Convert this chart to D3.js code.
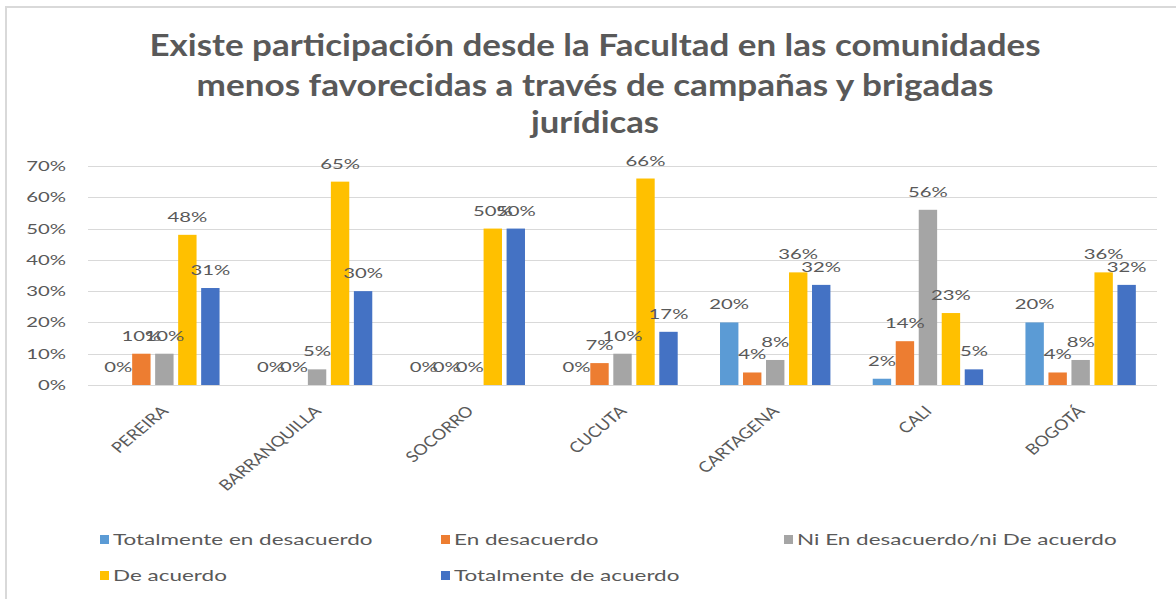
<!DOCTYPE html>
<html>
<head>
<meta charset="utf-8">
<script src="https://cdn.jsdelivr.net/npm/d3@7"></script>
<style>
  html, body { margin: 0; padding: 0; background: #fff; }
  svg { display: block; font-family: Lato, 'Open Sans', sans-serif; }
</style>
</head>
<body>
<svg id="chart" width="1176" height="599"></svg>
<script>
const titleLines = [
  'Existe participación desde la Facultad en las comunidades',
  'menos favorecidas a través de campañas y brigadas',
  'jurídicas'
];
const cities = ['PEREIRA', 'BARRANQUILLA', 'SOCORRO', 'CUCUTA', 'CARTAGENA', 'CALI', 'BOGOTÁ'];
const seriesNames = [
  'Totalmente en desacuerdo',
  'En desacuerdo',
  'Ni En desacuerdo/ni De acuerdo',
  'De acuerdo',
  'Totalmente de acuerdo'
];
const seriesColors = ['#5b9bd5', '#ed7d31', '#a5a5a5', '#ffc000', '#4472c4'];
// values per series, in city order (percent)
const totalDesacuerdo = [0, 0, 0, 0, 20, 2, 20];
const enDesacuerdo = [10, 0, 0, 7, 4, 14, 4];
const niNi = [10, 5, 0, 10, 8, 56, 8];
const deAcuerdo = [48, 65, 50, 66, 36, 23, 36];
const totalAcuerdo = [31, 30, 50, 17, 32, 5, 32];
const yTicks = [0, 10, 20, 30, 40, 50, 60, 70];

const seriesValues = [totalDesacuerdo, enDesacuerdo, niNi, deAcuerdo, totalAcuerdo];

const width = 1176;
const height = 599;
const SX = 1.45; // the source picture is stretched horizontally
const textColor = '#595959';

const svg = d3.select('#chart');
svg.append('rect').attr('width', width).attr('height', height).attr('fill', '#fff');

// frame
svg.append('rect')
  .attr('x', 6).attr('y', 7)
  .attr('width', width).attr('height', height)
  .attr('fill', 'none')
  .attr('stroke', '#d9d9d9')
  .attr('stroke-width', 2);

// title
const titleWidths = [891, 797, 128];
const titleBase = [56, 96, 133];
svg.append('g')
  .selectAll('text')
  .data(titleLines)
  .join('text')
  .attr('x', 595)
  .attr('y', (d, i) => titleBase[i])
  .attr('text-anchor', 'middle')
  .attr('font-size', 30)
  .attr('font-weight', 700)
  .attr('fill', textColor)
  .attr('textLength', (d, i) => titleWidths[i])
  .attr('lengthAdjust', 'spacingAndGlyphs')
  .text(d => d);

const plot = { left: 88, right: 1157, top: 166, bottom: 385 };

const x0 = d3.scaleBand()
  .domain(cities)
  .range([plot.left, plot.right])
  .padding(0);

const x1 = d3.scaleBand()
  .domain(d3.range(seriesNames.length))
  .range([0, x0.bandwidth()])
  .paddingInner(0.2)
  .paddingOuter(0.92);

const y = d3.scaleLinear()
  .domain([0, 70])
  .range([plot.bottom, plot.top]);

// gridlines
svg.append('g')
  .selectAll('line')
  .data(yTicks)
  .join('line')
  .attr('x1', plot.left)
  .attr('x2', plot.right)
  .attr('y1', d => Math.round(y(d)) + 0.5)
  .attr('y2', d => Math.round(y(d)) + 0.5)
  .attr('stroke', '#d9d9d9')
  .attr('stroke-width', 1);

// y labels
svg.append('g')
  .selectAll('text')
  .data(yTicks)
  .join('text')
  .attr('text-anchor', 'end')
  .attr('font-size', 14)
  .attr('fill', textColor)
  .attr('transform', d => `translate(66,${y(d) + 5}) scale(${SX},1)`)
  .text(d => d + '%');

// bars
const groups = svg.append('g')
  .selectAll('g')
  .data(cities)
  .join('g')
  .attr('transform', d => `translate(${x0(d)},0)`);

groups.selectAll('rect')
  .data((city, ci) => seriesValues.map((vals, si) => ({ si, v: vals[ci] })))
  .join('rect')
  .attr('x', d => x1(d.si))
  .attr('width', x1.bandwidth())
  .attr('y', d => y(d.v))
  .attr('height', d => y(0) - y(d.v))
  .attr('fill', d => seriesColors[d.si]);

groups.selectAll('text')
  .data((city, ci) => seriesValues.map((vals, si) => ({ si, v: vals[ci] })))
  .join('text')
  .attr('text-anchor', 'middle')
  .attr('font-size', 14)
  .attr('fill', textColor)
  .attr('transform', d => `translate(${x1(d.si) + x1.bandwidth() / 2},${y(d.v) - 13}) scale(${SX},1)`)
  .text(d => d.v + '%');

// category labels
svg.append('g')
  .selectAll('text')
  .data(cities)
  .join('text')
  .attr('text-anchor', 'end')
  .attr('font-size', 15)
  .attr('fill', textColor)
  .attr('transform', d => `translate(${x0(d) + x0.bandwidth() / 2 + 5},${plot.bottom + 27}) scale(1.2,1) rotate(-45)`)
  .text(d => d);

// legend
const legendPos = [[100, 540], [441, 540], [784, 540], [100, 576], [441, 576]];
const legend = svg.append('g')
  .selectAll('g')
  .data(seriesNames)
  .join('g')
  .attr('transform', (d, i) => `translate(${legendPos[i][0]},${legendPos[i][1]})`);

legend.append('rect')
  .attr('x', 0)
  .attr('y', -5)
  .attr('width', 9)
  .attr('height', 9)
  .attr('fill', (d, i) => seriesColors[i]);

legend.append('text')
  .attr('font-size', 15.5)
  .attr('fill', textColor)
  .attr('transform', `translate(13,5) scale(${SX},1)`)
  .text(d => d);
</script>
</body>
</html>
